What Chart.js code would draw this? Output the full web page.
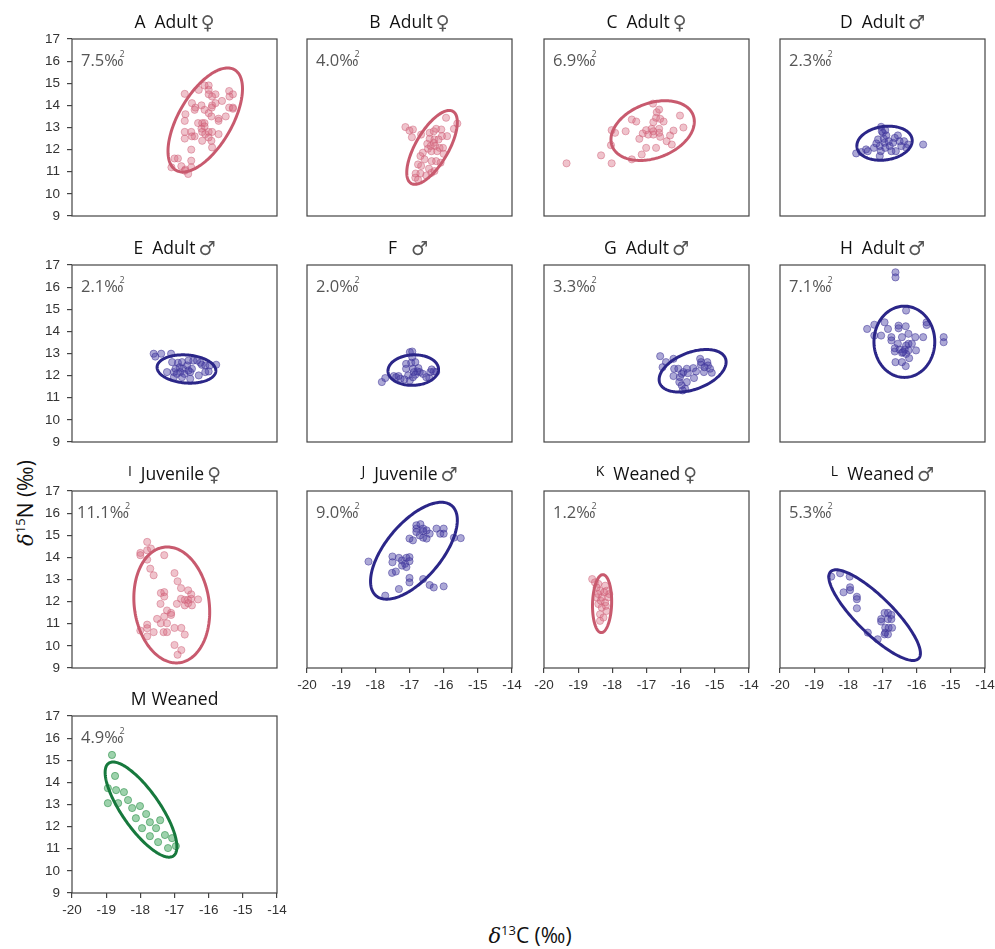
<!DOCTYPE html>
<html>
<head>
<meta charset="utf-8">
<script src="https://cdn.jsdelivr.net/npm/chart.js@4.4.0/dist/chart.umd.min.js"></script>
<style>
  html, body { margin: 0; padding: 0; background: #fff; }
  body { width: 995px; height: 949px; position: relative; overflow: hidden; font-family: "Open Sans", "DejaVu Sans", sans-serif; }
  .panel { position: absolute; }
  .axis-title { position: absolute; font-size: 21px; color: #111; white-space: nowrap; }
  .axis-title i { font-family: "DejaVu Serif", serif; }
  .axis-title sup { font-size: 13px; }
  #ytitle { left: 25px; top: 503px; transform: translate(-50%, -50%) rotate(-90deg); }
  #xtitle { left: 530px; top: 935px; transform: translate(-50%, -50%); }
</style>
</head>
<body>
<div id="ytitle" class="axis-title"><i>δ</i><sup>15</sup>N (‰)</div>
<div id="xtitle" class="axis-title"><i>δ</i><sup>13</sup>C (‰)</div>
<script>
// Axis ranges and tick labels shared by every panel
const xTicks = [-20, -19, -18, -17, -16, -15, -14];
const yTicks = [9, 10, 11, 12, 13, 14, 15, 16, 17];

// Panel headings
const panelLetters = ['A', 'B', 'C', 'D', 'E', 'F', 'G', 'H', 'I', 'J', 'K', 'L', 'M'];
const panelGroups  = ['Adult', 'Adult', 'Adult', 'Adult', 'Adult', '', 'Adult', 'Adult', 'Juvenile', 'Juvenile', 'Weaned', 'Weaned', 'Weaned'];
const panelSex     = ['♀', '♀', '♀', '♂', '♂', '♂', '♂', '♂', '♀', '♂', '♀', '♂', ''];

// Standard ellipse areas (‰²)
const seaValues = ['7.5', '4.0', '6.9', '2.3', '2.1', '2.0', '3.3', '7.1', '11.1', '9.0', '1.2', '5.3', '4.9'];

// Ellipse centre, spread along each axis and correlation
const ellipseCx  = [-16.10, -16.34, -16.82, -16.94, -16.65, -16.89, -15.65, -16.36, -17.08, -16.87, -18.30, -17.23, -17.98];
const ellipseCy  = [13.34, 12.10, 12.86, 12.29, 12.30, 12.25, 12.22, 13.53, 11.85, 14.30, 11.91, 11.39, 12.77];
const ellipseSx  = [1.09, 0.74, 1.22, 0.81, 0.86, 0.74, 0.98, 0.89, 1.11, 1.27, 0.28, 1.34, 1.05];
const ellipseSy  = [2.35, 1.67, 1.35, 0.77, 0.64, 0.69, 0.96, 1.61, 2.62, 2.19, 1.31, 2.05, 2.15];
const ellipseRho = [0.60, 0.68, 0.30, 0.15, -0.12, 0.05, 0.41, 0.00, -0.12, 0.63, 0.08, -0.84, -0.78];

// Individual samples, [δ13C, δ15N]
const samplesA = [[-16.70,14.52],[-16.29,14.70],[-16.12,14.90],[-16.00,14.90],[-16.00,14.70],[-16.00,14.50],[-15.80,14.50],[-15.90,14.40],[-15.40,14.65],[-15.29,14.50],[-15.39,14.40],[-15.61,14.20],[-15.80,14.10],[-16.49,14.10],[-16.21,14.00],[-15.90,14.00],[-15.91,13.90],[-16.39,13.90],[-16.41,13.80],[-16.12,13.80],[-16.68,13.60],[-16.00,13.65],[-15.92,13.50],[-15.71,13.40],[-15.71,13.30],[-15.50,13.50],[-15.40,13.90],[-15.29,13.85],[-15.29,13.90],[-16.70,13.30],[-16.31,13.20],[-16.19,13.20],[-16.12,13.20],[-16.21,12.95],[-16.12,13.05],[-16.70,12.80],[-16.51,12.80],[-16.19,12.80],[-16.00,12.80],[-15.90,12.80],[-16.41,12.60],[-16.49,12.60],[-16.70,12.50],[-16.10,12.70],[-16.00,12.55],[-15.71,12.70],[-16.19,12.40],[-15.92,12.40],[-15.90,12.10],[-16.51,12.00],[-17.00,11.60],[-16.90,11.60],[-16.51,11.50],[-17.09,11.20],[-16.80,11.25],[-16.68,11.10],[-16.51,11.20],[-16.60,10.90],[-16.70,11.05]];
const samplesB = [[-17.12,13.02],[-17.00,12.86],[-16.90,12.91],[-16.93,12.56],[-16.66,12.68],[-16.41,12.76],[-16.29,12.83],[-16.22,12.94],[-16.07,12.91],[-15.93,13.44],[-15.60,13.18],[-15.70,12.94],[-15.90,12.61],[-16.05,12.61],[-16.41,12.49],[-16.27,12.46],[-16.15,12.46],[-16.29,12.31],[-16.48,12.26],[-16.38,12.16],[-16.25,12.16],[-16.12,12.08],[-16.02,12.08],[-16.46,12.04],[-16.36,11.93],[-16.19,11.93],[-16.00,11.81],[-16.61,11.86],[-16.68,11.71],[-16.56,11.56],[-16.35,11.48],[-16.22,11.48],[-16.09,11.41],[-16.75,11.33],[-16.66,11.26],[-16.43,11.14],[-16.82,10.92],[-16.68,10.92],[-16.83,10.73],[-16.75,10.65],[-16.36,10.95],[-16.27,11.03],[-16.51,10.83]];
const samplesC = [[-19.34,11.38],[-18.33,11.74],[-18.02,11.38],[-18.04,12.20],[-18.02,12.88],[-17.92,12.76],[-17.61,12.83],[-17.43,13.36],[-17.30,13.27],[-17.43,11.56],[-17.14,11.78],[-17.01,12.08],[-17.21,12.49],[-17.11,12.73],[-17.01,12.88],[-16.95,12.68],[-16.85,12.94],[-16.80,12.68],[-16.80,13.24],[-16.72,13.44],[-16.81,14.08],[-16.70,13.69],[-16.63,13.81],[-16.60,13.39],[-16.50,13.27],[-16.63,12.94],[-16.63,12.76],[-16.60,12.58],[-16.72,12.08],[-16.41,12.38],[-16.31,12.64],[-16.21,12.86],[-16.26,12.23],[-16.02,13.54],[-15.92,13.00],[-16.80,12.83]];
const samplesD = [[-17.77,11.83],[-17.62,11.89],[-17.48,12.01],[-17.43,11.93],[-17.25,12.08],[-17.13,12.46],[-17.08,12.16],[-17.05,11.93],[-17.04,13.03],[-16.99,12.76],[-16.96,12.49],[-16.94,12.31],[-16.92,12.08],[-16.89,12.64],[-16.82,12.38],[-16.79,12.16],[-16.74,11.93],[-16.69,12.31],[-16.64,12.53],[-16.61,11.93],[-16.55,12.64],[-16.50,12.38],[-16.45,12.16],[-16.37,12.38],[-16.30,12.08],[-16.25,12.23],[-17.08,11.71],[-15.81,12.23],[-17.18,12.28],[-17.02,12.83],[-16.92,12.88]];
const samplesE = [[-17.61,12.99],[-17.56,12.86],[-17.39,12.99],[-17.10,12.99],[-17.07,12.61],[-17.22,12.16],[-17.02,12.16],[-16.97,12.31],[-16.90,12.58],[-16.85,12.38],[-16.83,12.16],[-16.78,12.61],[-16.75,12.31],[-16.71,12.08],[-16.63,12.46],[-16.59,12.23],[-16.54,12.16],[-16.49,12.31],[-16.59,12.68],[-16.45,12.68],[-16.34,12.68],[-16.24,12.58],[-16.20,12.49],[-16.10,12.46],[-16.00,12.19],[-16.10,12.16],[-15.97,12.46],[-15.78,12.49],[-16.29,12.01],[-17.02,11.93],[-16.78,11.93],[-16.54,11.86],[-16.93,12.08]];
const samplesF = [[-17.81,11.71],[-17.71,11.89],[-17.46,11.98],[-17.39,11.93],[-17.32,11.98],[-17.26,11.86],[-17.10,12.53],[-17.10,12.31],[-17.04,12.01],[-16.99,13.06],[-16.92,13.09],[-16.92,12.83],[-16.95,12.58],[-16.90,12.31],[-16.87,12.16],[-16.99,11.78],[-16.90,11.93],[-16.83,12.61],[-16.77,12.19],[-16.70,12.16],[-16.74,12.34],[-16.61,12.08],[-16.51,11.93],[-16.42,11.89],[-16.39,12.16],[-16.29,12.19],[-16.35,12.28],[-16.22,12.16],[-17.15,11.83],[-16.83,12.04]];
const samplesG = [[-16.60,12.88],[-16.43,12.61],[-16.53,12.38],[-16.21,12.76],[-16.19,12.31],[-16.07,12.31],[-16.21,11.98],[-16.02,11.93],[-15.97,12.08],[-15.92,12.16],[-16.04,11.71],[-15.97,11.56],[-15.87,11.41],[-15.94,11.33],[-15.82,12.31],[-15.79,12.11],[-15.63,12.34],[-15.61,11.89],[-15.82,11.71],[-15.55,12.19],[-15.43,12.76],[-15.40,12.61],[-15.41,12.49],[-15.32,12.16],[-15.22,12.61],[-15.20,12.46],[-15.14,12.31],[-15.09,12.13],[-15.30,12.38]];
const samplesH = [[-16.62,16.67],[-16.62,16.44],[-17.45,14.11],[-17.24,14.30],[-17.24,13.81],[-16.94,14.41],[-17.04,13.81],[-16.84,14.11],[-16.74,13.74],[-16.74,13.59],[-16.53,14.26],[-16.53,14.14],[-16.32,14.23],[-16.43,13.74],[-16.24,13.89],[-16.31,14.94],[-16.04,13.74],[-15.81,13.74],[-15.71,14.41],[-15.71,14.29],[-15.21,13.74],[-15.21,13.51],[-16.55,13.44],[-16.64,13.24],[-16.64,13.09],[-16.50,13.18],[-16.43,13.03],[-16.35,13.18],[-16.31,13.36],[-16.24,13.44],[-16.14,13.44],[-16.24,13.14],[-16.31,12.98],[-16.02,13.14],[-16.22,12.79],[-16.62,12.61],[-16.43,12.61],[-16.32,12.43],[-16.40,13.06]];
const samplesI = [[-17.80,14.70],[-18.00,14.20],[-18.00,14.10],[-17.80,14.32],[-17.69,14.40],[-17.80,13.90],[-17.71,13.49],[-17.61,13.19],[-17.30,14.10],[-17.00,13.29],[-16.91,12.92],[-16.81,12.61],[-16.60,12.51],[-16.51,12.33],[-17.30,12.43],[-17.40,12.39],[-17.30,12.23],[-16.81,12.13],[-16.70,12.08],[-16.60,12.08],[-16.51,12.13],[-16.31,12.10],[-16.70,11.83],[-16.60,11.93],[-16.49,11.83],[-16.93,11.90],[-17.41,11.90],[-17.22,11.60],[-17.10,11.49],[-17.10,11.40],[-17.30,11.33],[-17.51,11.22],[-17.40,11.02],[-17.22,11.02],[-17.80,10.96],[-17.80,10.80],[-18.00,10.69],[-17.61,10.62],[-17.32,10.62],[-17.22,10.62],[-17.00,10.81],[-16.80,10.81],[-16.70,10.51],[-17.80,10.43],[-17.00,10.04],[-16.80,9.81],[-16.91,9.60]];
const samplesJ = [[-18.20,13.81],[-17.50,14.04],[-17.50,13.78],[-17.31,13.98],[-17.22,13.86],[-17.09,13.98],[-17.00,14.01],[-17.00,13.83],[-17.13,13.71],[-17.22,13.63],[-17.09,13.56],[-17.51,13.30],[-17.40,13.36],[-17.00,13.07],[-17.00,12.87],[-16.60,13.02],[-17.31,12.57],[-17.71,12.27],[-16.41,12.75],[-16.29,12.64],[-16.00,12.69],[-17.00,14.85],[-16.90,14.77],[-16.80,15.30],[-16.68,15.50],[-16.60,15.30],[-16.60,15.18],[-16.50,15.22],[-16.70,14.99],[-16.60,14.89],[-16.50,14.85],[-16.41,15.07],[-16.80,15.15],[-16.21,15.30],[-16.10,15.07],[-16.00,15.07],[-16.00,15.30],[-15.70,14.89],[-15.50,14.87],[-16.80,15.45]];
const samplesK = [[-18.59,13.02],[-18.51,12.87],[-18.41,12.80],[-18.21,12.72],[-18.17,12.49],[-18.36,12.49],[-18.46,12.19],[-18.31,12.19],[-18.12,12.19],[-18.21,11.96],[-18.41,11.89],[-18.31,11.73],[-18.17,11.58],[-18.36,11.43],[-18.26,11.28],[-18.36,11.13],[-18.19,11.81],[-18.09,12.34],[-18.41,12.34],[-18.46,12.64],[-18.34,12.04],[-18.24,12.42]];
const samplesL = [[-18.50,13.13],[-18.24,13.28],[-17.96,13.13],[-18.14,12.42],[-17.95,12.65],[-17.95,12.52],[-17.75,12.22],[-17.75,12.11],[-17.75,11.70],[-16.94,11.49],[-16.84,11.49],[-16.74,11.40],[-17.04,11.21],[-17.04,11.10],[-16.84,11.21],[-16.74,11.21],[-16.92,10.82],[-16.82,10.82],[-16.72,10.82],[-16.92,10.60],[-16.94,10.52],[-16.84,10.52],[-17.43,10.60],[-17.14,10.30]];
const samplesM = [[-18.83,15.24],[-18.74,14.29],[-18.95,13.74],[-18.71,13.65],[-18.48,13.56],[-18.95,13.06],[-18.65,13.06],[-18.36,13.20],[-18.24,12.84],[-18.01,12.93],[-18.13,12.38],[-17.83,12.57],[-17.72,12.20],[-17.95,11.93],[-17.54,11.93],[-17.42,12.29],[-17.28,11.62],[-17.07,11.48],[-16.96,11.12],[-17.19,11.03],[-17.48,11.30],[-17.72,11.57]];

const panelSamples = [samplesA, samplesB, samplesC, samplesD, samplesE, samplesF, samplesG, samplesH, samplesI, samplesJ, samplesK, samplesL, samplesM];

// Colour sets: female, male, unsexed
const palette = {
  '♀': { line: '#c85a6e', fill: 'rgba(214, 104, 128, 0.40)', edge: 'rgba(205, 90, 115, 0.45)' },
  '♂': { line: '#2b2688', fill: 'rgba(72, 62, 165, 0.45)', edge: 'rgba(60, 50, 150, 0.50)' },
  '':  { line: '#17793d', fill: 'rgba(60, 165, 90, 0.50)', edge: 'rgba(40, 140, 70, 0.55)' }
};

// Grid geometry (plot-area corners in page pixels)
const colLeft = [72, 307, 544, 780];
const rowTop = [39, 265, 491, 716];
const plotW = 205, plotH = 177;
const padL = 50, padT = 32, padR = 12, padB = 40;

const AXIS_COLOR = '#444';
const TICK_FONT = { family: '"Liberation Sans", Arial, sans-serif', size: 13.5 };

// Frame around each plot area
const framePlugin = {
  id: 'frame',
  afterDatasetsDraw(chart) {
    const { ctx, chartArea: a } = chart;
    ctx.save();
    ctx.strokeStyle = AXIS_COLOR;
    ctx.lineWidth = 1.2;
    ctx.strokeRect(a.left, a.top, a.right - a.left, a.bottom - a.top);
    ctx.restore();
  }
};

// Standard ellipse drawn through the chart scales
const ellipsePlugin = {
  id: 'ellipse',
  afterDatasetsDraw(chart, args, opts) {
    const i = opts.index;
    const { ctx, scales: { x, y } } = chart;
    const cx = ellipseCx[i], cy = ellipseCy[i], sx = ellipseSx[i], sy = ellipseSy[i], r = ellipseRho[i];
    const k = Math.sqrt(1 - r * r);
    ctx.save();
    ctx.beginPath();
    const n = 180;
    for (let s = 0; s <= n; s++) {
      const t = (s / n) * Math.PI * 2;
      const vx = cx + sx * Math.cos(t);
      const vy = cy + sy * (r * Math.cos(t) + k * Math.sin(t));
      const px = x.getPixelForValue(vx), py = y.getPixelForValue(vy);
      if (s === 0) ctx.moveTo(px, py); else ctx.lineTo(px, py);
    }
    ctx.closePath();
    ctx.strokeStyle = opts.color;
    ctx.lineWidth = 3;
    ctx.stroke();
    ctx.restore();
  }
};

// Panel heading and SEA label
const labelPlugin = {
  id: 'panelLabels',
  afterDraw(chart, args, opts) {
    const i = opts.index;
    const { ctx, chartArea: a } = chart;
    ctx.save();
    const small = i >= 8 && i <= 11;
    const letterFont = (small ? '14px' : '17.5px') + ' "Open Sans", "DejaVu Sans", sans-serif';
    const textFont = '17.5px "Open Sans", "DejaVu Sans", sans-serif';
    const symFont = '19px "DejaVu Sans", sans-serif';
    const letter = panelLetters[i], group = panelGroups[i], sex = panelSex[i];
    ctx.font = letterFont; const wL = ctx.measureText(letter).width;
    ctx.font = textFont; const wG = group ? ctx.measureText(group).width : 0;
    ctx.font = symFont; const wS = sex ? ctx.measureText(sex).width : 0;
    const gap1 = group ? (i === 12 ? 5 : 9) : 14;
    const gap2 = sex ? 3 : 0;
    const total = wL + gap1 + wG + gap2 + wS;
    let xPos = (a.left + a.right) / 2 - total / 2;
    const base = a.top - 11;
    ctx.textBaseline = 'alphabetic';
    ctx.textAlign = 'left';
    ctx.fillStyle = '#111';
    ctx.font = letterFont;
    ctx.fillText(letter, xPos, small ? base - 4 : base);
    xPos += wL + gap1;
    if (group) { ctx.font = textFont; ctx.fillText(group, xPos, base); xPos += wG + gap2; }
    if (sex) { ctx.font = symFont; ctx.fillStyle = '#555'; ctx.fillText(sex, xPos, base + 1); }
    // SEA label
    ctx.fillStyle = '#555';
    ctx.font = '16.5px "Open Sans", "DejaVu Sans", sans-serif';
    const seaText = seaValues[i] + '‰';
    const sx0 = a.left + (i === 8 ? 5 : 9);
    ctx.fillText(seaText, sx0, a.top + 27);
    const wSea = ctx.measureText(seaText).width;
    ctx.font = '9px "Open Sans", "DejaVu Sans", sans-serif';
    ctx.fillText('2', sx0 + wSea - 4, a.top + 18);
    ctx.restore();
  }
};

for (let i = 0; i < 13; i++) {
  const col = i % 4, row = Math.floor(i / 4);
  const showY = col === 0;
  const showX = (row === 2 && col > 0) || i === 12;
  const colors = palette[panelSex[i]];

  const div = document.createElement('div');
  div.className = 'panel';
  const W = plotW + padL + padR, H = plotH + padT + padB;
  div.style.left = (colLeft[col] - padL) + 'px';
  div.style.top = (rowTop[row] - padT) + 'px';
  div.style.width = W + 'px';
  div.style.height = H + 'px';
  const canvas = document.createElement('canvas');
  canvas.width = W; canvas.height = H;
  canvas.style.width = W + 'px'; canvas.style.height = H + 'px';
  div.appendChild(canvas);
  document.body.appendChild(div);

  new Chart(canvas, {
    type: 'scatter',
    data: {
      datasets: [{
        data: panelSamples[i].map(p => ({ x: p[0], y: p[1] })),
        backgroundColor: colors.fill,
        borderColor: colors.edge,
        borderWidth: 1,
        pointRadius: 3.6,
        pointHoverRadius: 3.6
      }]
    },
    options: {
      responsive: false,
      animation: false,
      devicePixelRatio: 1,
      events: [],
      layout: { padding: { top: padT, right: padR, left: 0, bottom: 0 } },
      plugins: {
        legend: { display: false },
        tooltip: { enabled: false },
        ellipse: { index: i, color: colors.line },
        panelLabels: { index: i }
      },
      scales: {
        x: {
          type: 'linear', min: -20, max: -14,
          afterBuildTicks: s => { s.ticks = xTicks.map(v => ({ value: v })); },
          afterFit: s => { s.height = padB; s.paddingLeft = 0; s.paddingRight = 0; },
          grid: { display: showX, drawOnChartArea: false, drawTicks: true, tickLength: 5, color: AXIS_COLOR, lineWidth: 1.2 },
          border: { display: false },
          ticks: { display: showX, padding: 4, color: '#333', font: TICK_FONT, maxRotation: 0, autoSkip: false }
        },
        y: {
          type: 'linear', min: 9, max: 17,
          afterBuildTicks: s => { s.ticks = yTicks.map(v => ({ value: v })); },
          afterFit: s => { s.width = padL; s.paddingTop = 0; s.paddingBottom = 0; },
          grid: { display: showY, drawOnChartArea: false, drawTicks: true, tickLength: 5, color: AXIS_COLOR, lineWidth: 1.2 },
          border: { display: false },
          ticks: { display: showY, padding: 7, color: '#333', font: TICK_FONT, autoSkip: false }
        }
      }
    },
    plugins: [framePlugin, ellipsePlugin, labelPlugin]
  });
}
</script>
</body>
</html>
